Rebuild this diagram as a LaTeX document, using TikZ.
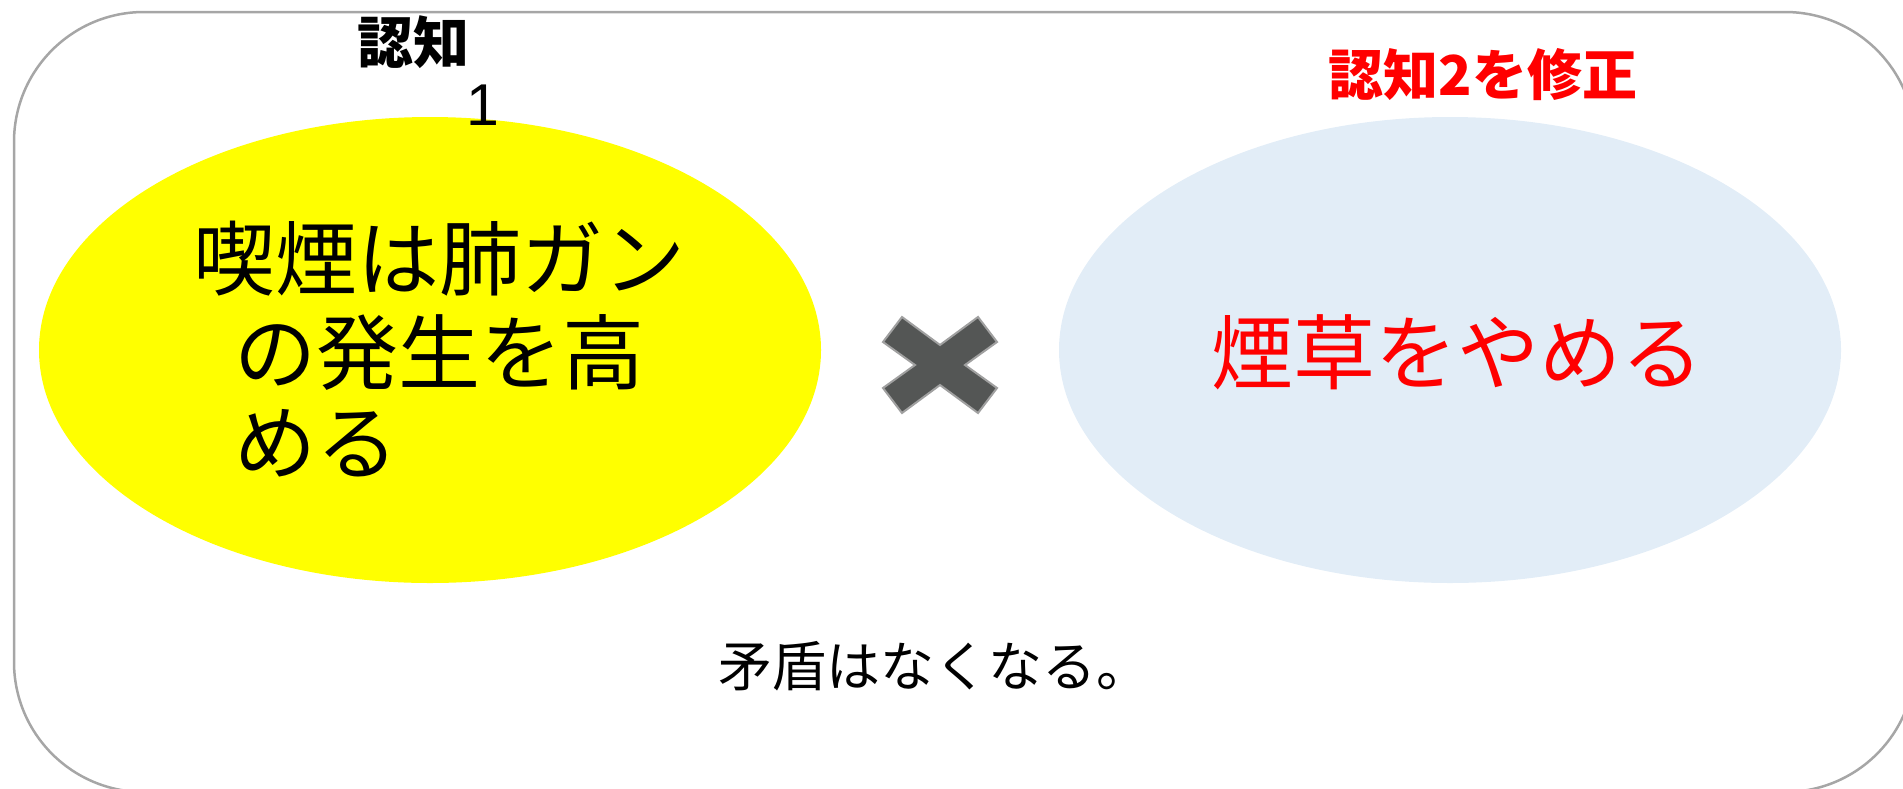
\documentclass[tikz,border=0pt]{standalone}
\usepackage{fontspec}
\setmainfont{Noto Sans CJK JP}
\newfontfamily\digitfont{Liberation Sans}
\usetikzlibrary{shapes.geometric}
\definecolor{frame}{HTML}{A6A6A6}
\definecolor{lightblue}{HTML}{E2EDF7}
\definecolor{pureyellow}{HTML}{FFFF00}
\definecolor{purered}{HTML}{FF0000}
\definecolor{crossfill}{HTML}{545655}
\definecolor{crossedge}{HTML}{A0A0A0}
\tikzset{
  blob/.style={ellipse, minimum width=782pt, minimum height=466pt, inner sep=0pt, draw=none},
  bigtxt/.style={font=\fontsize{82}{96}\selectfont, inner sep=0pt, anchor=base west},
  midtxt/.style={font=\fontsize{54}{62}\selectfont, inner sep=0pt, anchor=base},
  lbltxt/.style={font=\fontsize{56}{64}\selectfont\bfseries, inner sep=0pt, anchor=base},
}
\begin{document}
\begin{tikzpicture}[x=1pt,y=-1pt]
\useasboundingbox (0,0) rectangle (1903,788);
\draw[frame, line width=2.5pt, rounded corners=130pt] (14,12) rectangle (1915,792);
\node[blob, fill=pureyellow] (c1) at (430,350) {};
\node[blob, fill=lightblue] (c2) at (1450,350) {};
\node[bigtxt] (y1) at (193,289) {喫煙は肺ガン};
\node[bigtxt] (y2) at (234,383) {の発生を高};
\node[bigtxt] (y3) at (234,473) {める};
\node[font=\fontsize{82}{94}\selectfont, inner sep=0pt, anchor=base, text=purered] (b1) at (1457,383) {煙草をやめる};
\node[lbltxt] (l1) at (413,63) {認知};
\node[font=\fontsize{59}{64}\digitfont, inner sep=0pt, anchor=base] (l1n) at (483,125) {1};
\node[lbltxt, font=\fontsize{55}{62}\selectfont\bfseries, text=purered] (l2) at (1483,95) {認知2を修正};
\node[midtxt] (res) at (934,686) {矛盾はなくなる。};
\begin{scope}[shift={(940,365)}]
\draw[fill=crossfill, draw=crossedge, line width=2pt, line join=miter]
  (-38,-48) -- (0,-20) -- (38,-48) -- (57,-23)
  -- (25,0) -- (57,23) -- (38,48) -- (0,20)
  -- (-38,48) -- (-57,23) -- (-25,0) -- (-57,-23) -- cycle;
\end{scope}
\end{tikzpicture}
\end{document}
